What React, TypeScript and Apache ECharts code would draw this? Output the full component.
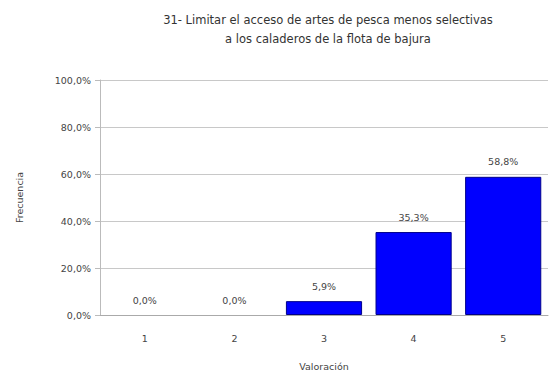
import React, { useEffect, useRef } from "react";
import * as echarts from "echarts";

const categories = ["1", "2", "3", "4", "5"];
const values = [0.0, 0.0, 5.9, 35.3, 58.8];
const yTicks = [0, 20, 40, 60, 80, 100];

const fmt = (v: number) => v.toFixed(1).replace(".", ",") + "%";

export default function App() {
  const ref = useRef<HTMLDivElement>(null);
  useEffect(() => {
    document.body.style.margin = "0";
    const chart = echarts.init(ref.current!, null, { renderer: "svg" });
    const font = "DejaVu Sans";
    chart.setOption({
      animation: false,
      backgroundColor: "#ffffff",
      title: {
        text: "31- Limitar el acceso de artes de pesca menos selectivas\na los caladeros de la flota de bajura",
        left: 323,
        textAlign: "center",
        top: 5,
        textStyle: { fontFamily: font, fontSize: 11.5, fontWeight: "normal", color: "#333", lineHeight: 19 },
      },
      grid: { left: 100, right: 2, top: 80, bottom: 63 },
      xAxis: {
        type: "category",
        data: categories,
        name: "Valoración",
        nameLocation: "middle",
        nameGap: 46,
        nameTextStyle: { fontFamily: font, fontSize: 9.5, color: "#444" },
        axisLine: { lineStyle: { color: "#aaa" } },
        axisTick: { show: false },
        axisLabel: { fontFamily: font, fontSize: 9.5, color: "#444", margin: 18 },
      },
      yAxis: {
        type: "value",
        min: yTicks[0],
        max: yTicks[yTicks.length - 1],
        interval: 20,
        name: "Frecuencia",
        nameLocation: "middle",
        nameGap: 76,
        nameTextStyle: { fontFamily: font, fontSize: 9.5, color: "#444" },
        axisLine: { show: true, lineStyle: { color: "#bbb" } },
        axisTick: { show: true, length: 5, lineStyle: { color: "#bbb" } },
        splitLine: { lineStyle: { color: "#c8c8c8" } },
        axisLabel: { fontFamily: font, fontSize: 9.5, color: "#444", margin: 9, formatter: (v: number) => fmt(v) },
      },
      series: [
        {
          type: "bar",
          data: values.map((v) => (v === 0 ? { value: v, itemStyle: { borderWidth: 0, opacity: 0 } } : v)),
          barCategoryGap: "15%",
          itemStyle: { color: "#0000ff", borderColor: "#00008b", borderWidth: 1 },
          label: {
            show: true,
            position: "top",
            distance: 10,
            opacity: 1,
            fontFamily: font,
            fontSize: 9.5,
            color: "#444",
            formatter: (p: any) => fmt(p.value),
          },
        },
      ],
    });
    return () => chart.dispose();
  }, []);
  return <div ref={ref} style={{ width: 550, height: 378 }} />;
}
